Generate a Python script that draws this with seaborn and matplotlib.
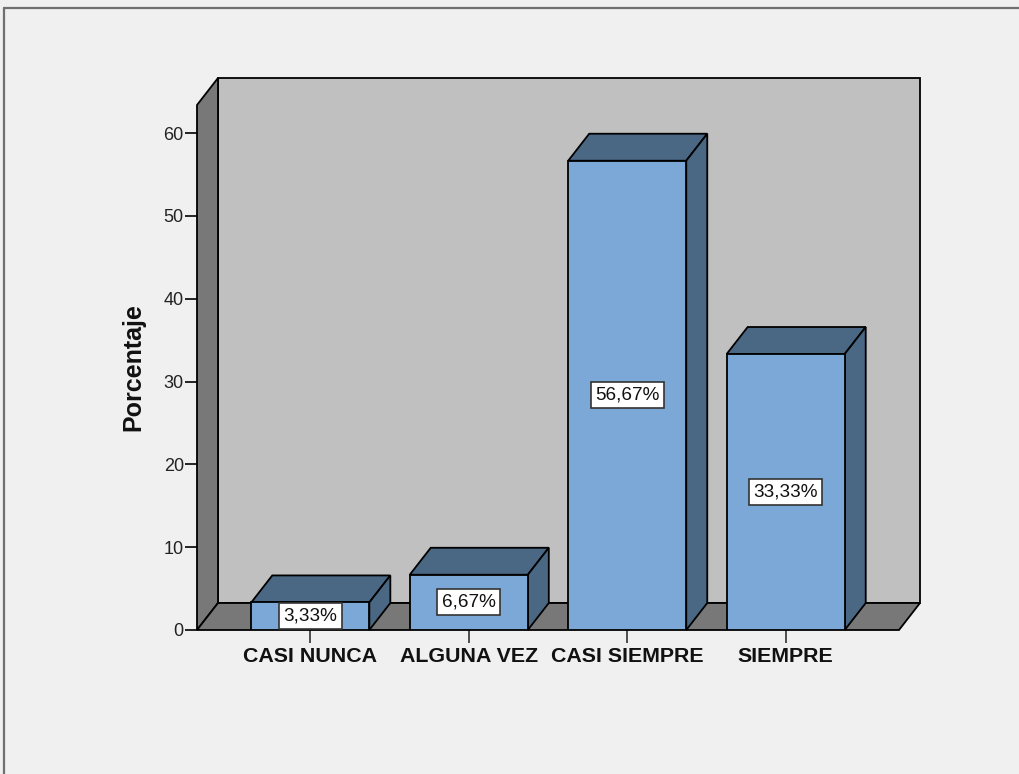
import matplotlib
matplotlib.use("Agg")
import matplotlib.pyplot as plt
from matplotlib.patches import Polygon
from matplotlib.lines import Line2D
import numpy as np
import seaborn as sns

# Survey response distribution (percent)
categories = ["CASI NUNCA", "ALGUNA VEZ", "CASI SIEMPRE", "SIEMPRE"]
percentages = [3.33, 6.67, 56.67, 33.33]
y_ticks = [0, 10, 20, 30, 40, 50, 60]

FRONT = "#7ba8d6"
SHADE = "#4a6784"
WALL = "#c0c0c0"
FLOOR = "#787878"
BG = "#f0f0f0"
DEPTH_PX = (21, 27)  # depth offset of the 3D box, in pixels

sns.set_theme(style="white")
plt.rcParams["font.family"] = ["Liberation Sans", "DejaVu Sans"]

fig = plt.figure(figsize=(10.2, 7.74), dpi=100, facecolor=BG)
ax = fig.add_axes([197 / 1020, 144 / 774, 702 / 1020, 525 / 774])
ax.set_facecolor("none")

sns.barplot(x=categories, y=percentages, color=FRONT, saturation=1,
            width=0.745, edgecolor="black", linewidth=1.3, ax=ax, zorder=5)

ax.set_xlim(-0.715, 3.715)
ax.set_ylim(0, 63.4)
for s in ax.spines.values():
    s.set_visible(False)


def shift(x, y):
    """Move a data point back by the depth offset."""
    px = ax.transData.transform((x, y)) + np.array(DEPTH_PX)
    return tuple(ax.transData.inverted().transform(px))


x0, x1 = ax.get_xlim()
y0, y1 = ax.get_ylim()
poly_kw = dict(edgecolor="black", linewidth=1.3, clip_on=False)

# back wall
ax.add_patch(Polygon([shift(x0, y0), shift(x1, y0), shift(x1, y1), shift(x0, y1)],
                     facecolor=WALL, zorder=1, **poly_kw))
# left side wall
ax.add_patch(Polygon([(x0, y0), shift(x0, y0), shift(x0, y1), (x0, y1)],
                     facecolor=FLOOR, zorder=1.5, **poly_kw))
# floor
ax.add_patch(Polygon([(x0, y0), (x1, y0), shift(x1, y0), shift(x0, y0)],
                     facecolor=FLOOR, zorder=1.5, **poly_kw))

# top and side faces of each bar, plus value labels
for patch, val in zip(ax.patches[:len(percentages)], percentages):
    bx0 = patch.get_x()
    bx1 = bx0 + patch.get_width()
    h = patch.get_height()
    ax.add_patch(Polygon([(bx0, h), (bx1, h), shift(bx1, h), shift(bx0, h)],
                         facecolor=SHADE, zorder=4, **poly_kw))
    ax.add_patch(Polygon([(bx1, 0), shift(bx1, 0), shift(bx1, h), (bx1, h)],
                         facecolor=SHADE, zorder=4, **poly_kw))
    ax.text((bx0 + bx1) / 2, h / 2, f"{val:.2f}%".replace(".", ","),
            ha="center", va="center", fontsize=13.6, color="#111111", zorder=7,
            bbox=dict(boxstyle="square,pad=0.24", facecolor="white",
                      edgecolor="#333333", linewidth=1.2))

ax.set_yticks(y_ticks)
ax.set_yticklabels([str(t) for t in y_ticks])
ax.tick_params(axis="y", direction="out", length=9, width=1.2, color="black",
               labelsize=13, labelcolor="#222222", pad=0.5, left=True)
ax.tick_params(axis="x", direction="out", length=9, width=1.2, color="#333333",
               labelsize=15.4, labelcolor="#111111", pad=3.5, bottom=True)
for lab in ax.get_xticklabels():
    lab.set_fontweight("bold")

ax.set_xlabel("")
ax.set_ylabel("Porcentaje", fontsize=18, fontweight="bold", color="#111111")
ax.yaxis.set_label_coords(-0.074, 0.5)

# outer frame
fig.add_artist(Line2D([4 / 1020, 4 / 1020], [0, 1 - 8 / 774], transform=fig.transFigure,
                      color="#707070", linewidth=1.6))
fig.add_artist(Line2D([4 / 1020, 1], [1 - 8 / 774, 1 - 8 / 774], transform=fig.transFigure,
                      color="#707070", linewidth=1.6))

fig.savefig("out.png", dpi=100, facecolor=BG)
